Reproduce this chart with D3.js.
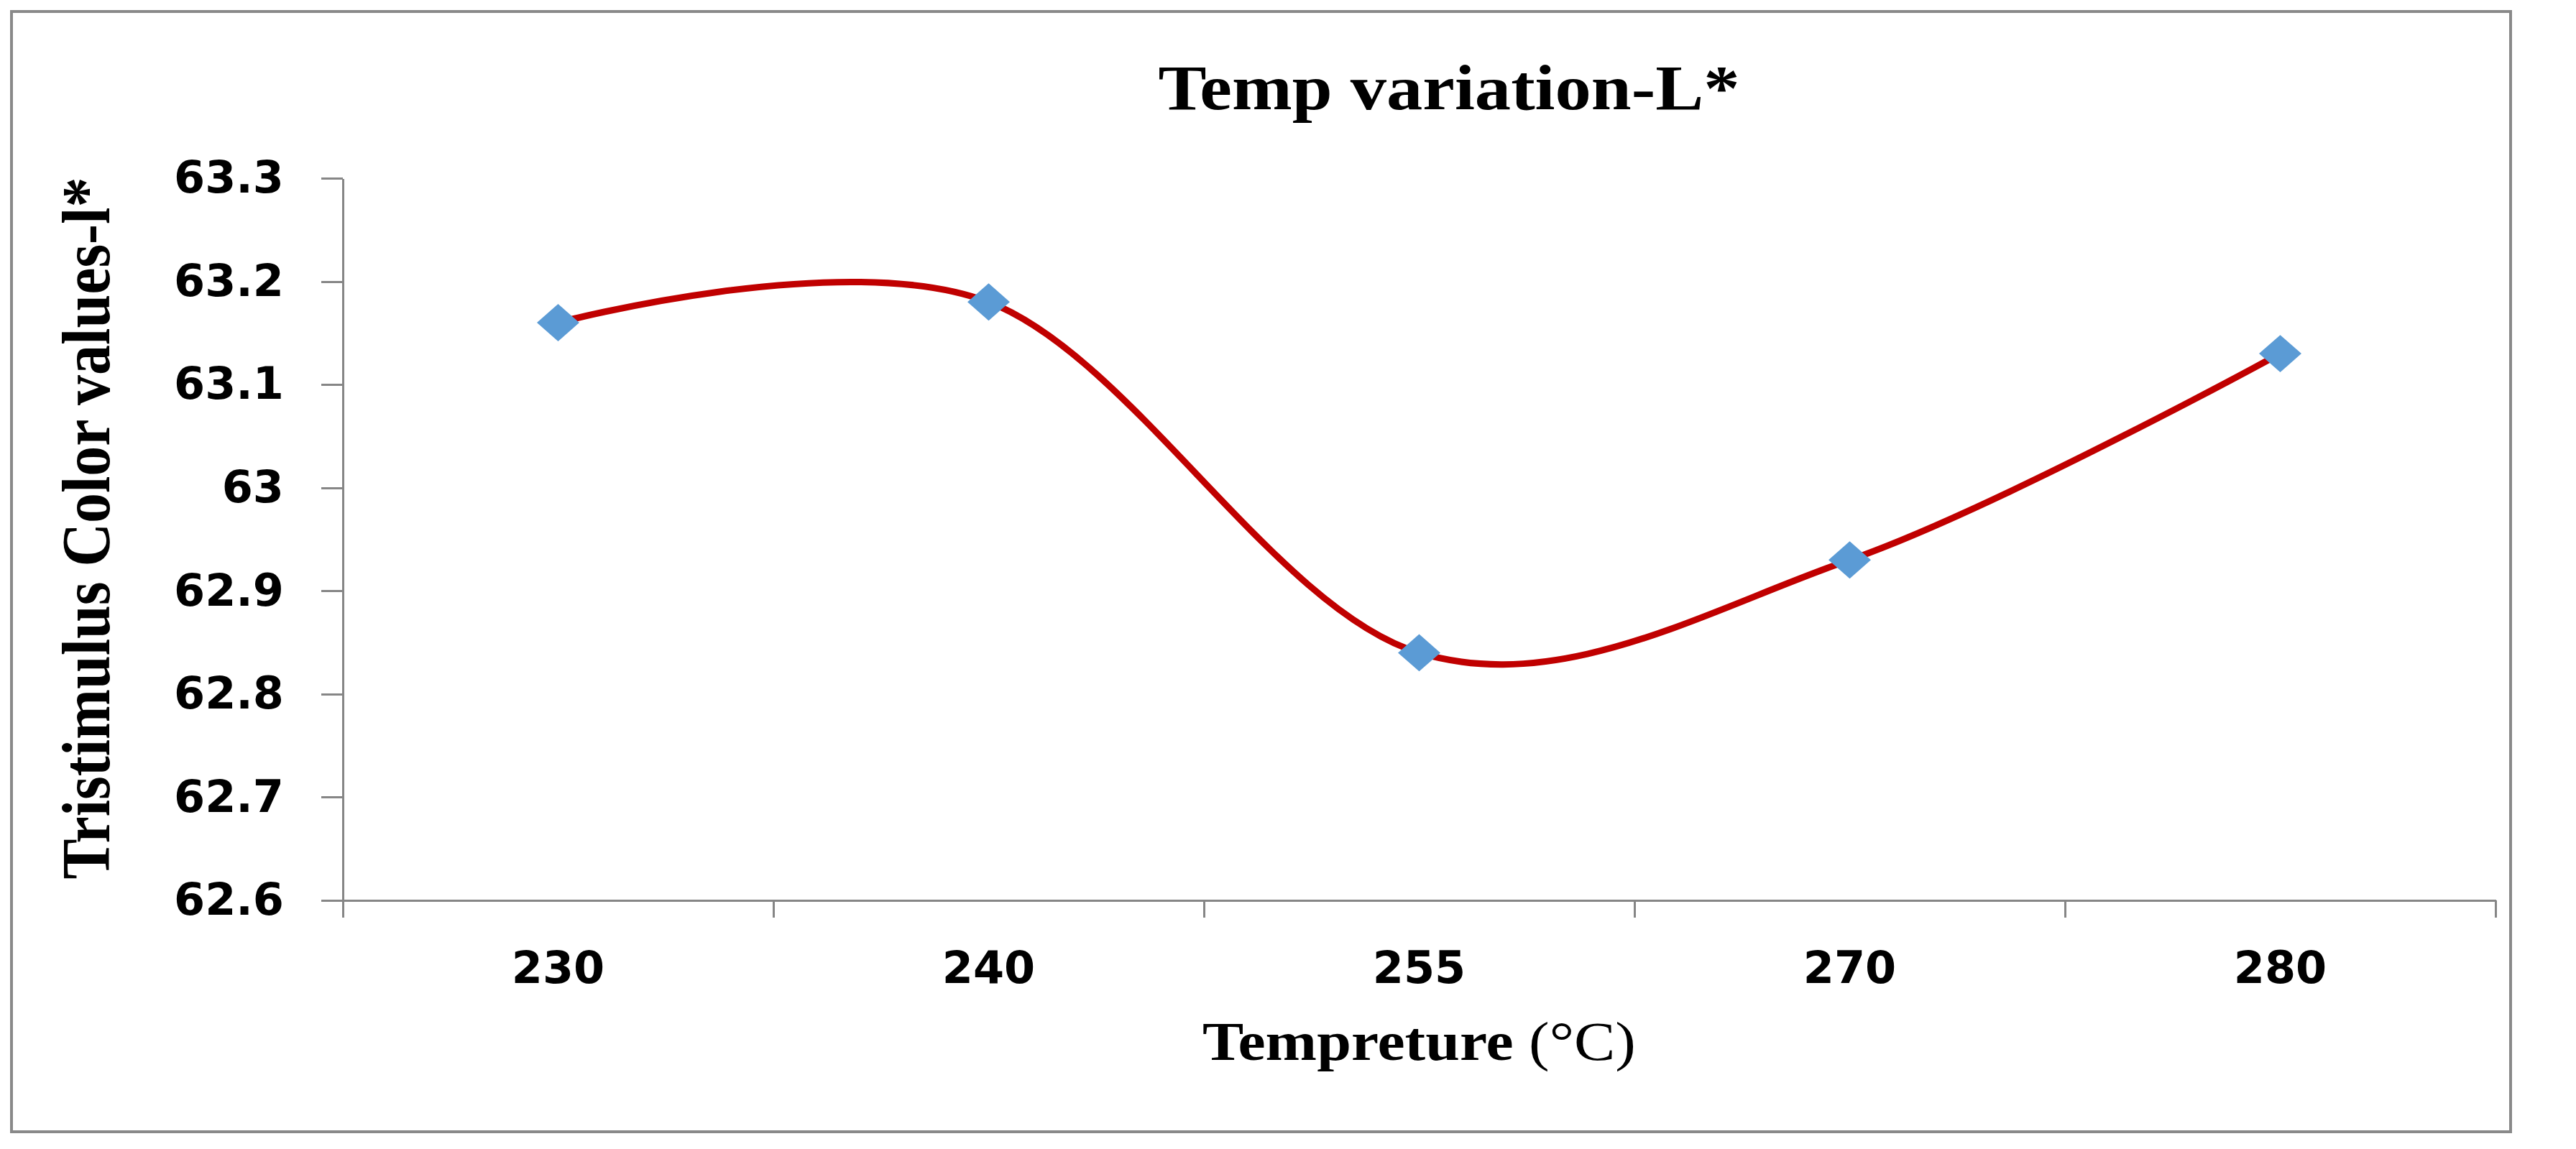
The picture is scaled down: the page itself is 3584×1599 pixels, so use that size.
<!DOCTYPE html>
<html lang="en">
<head>
<meta charset="UTF-8">
<title>Temp variation-L*</title>
<script src="https://cdn.jsdelivr.net/npm/d3@7"></script>
<style>
    body {
        margin: 0;
        background: #fff;
    }
    .axis path,
    .axis line {
        fill: none;
        stroke: #868686;
        stroke-width: 3;
        shape-rendering: crispEdges;
    }
    .axis text {
        font-family: "DejaVu Sans", sans-serif;
        font-weight: bold;
        font-size: 62px;
        fill: #000;
    }
    .serif {
        font-family: "Liberation Serif", "Times New Roman", serif;
        fill: #000;
    }
</style>
</head>
<body>
<script>
// chart values
var categories = ["230", "240", "255", "270", "280"];
var lValues = [63.16, 63.18, 62.84, 62.93, 63.13];
var yTickValues = [62.6, 62.7, 62.8, 62.9, 63.0, 63.1, 63.2, 63.3];
var yTickLabels = ["62.6", "62.7", "62.8", "62.9", "63", "63.1", "63.2", "63.3"];
var chartTitle = "Temp variation-L*";
var xTitleMain = "Tempreture ";
var xTitleUnit = "(°C)";
var yTitle = "Tristimulus Color values-l*";

var W = 3584, H = 1599;
var plot = { left: 477, right: 3472, top: 248, bottom: 1253 };
var stretch = 1.13; // the source picture is a bit wider than tall

var svg = d3.select("body").append("svg")
    .attr("width", W)
    .attr("height", H);

// outer frame
svg.append("rect")
    .attr("x", 16).attr("y", 16)
    .attr("width", 3477).attr("height", 1559)
    .attr("fill", "#fff")
    .attr("stroke", "#898989")
    .attr("stroke-width", 4);

var x = d3.scaleBand()
    .domain(categories)
    .range([plot.left, plot.right])
    .padding(0);

var y = d3.scaleLinear()
    .domain([62.6, 63.3])
    .range([plot.bottom, plot.top]);

// y axis
svg.append("g")
    .attr("class", "y axis")
    .attr("transform", "translate(" + plot.left + ",0)")
    .call(d3.axisLeft(y)
        .tickValues(yTickValues)
        .tickFormat(function(d, i) { return yTickLabels[i]; })
        .tickSize(30)
        .tickSizeOuter(0)
        .tickPadding(52));

// x axis, labels centred in each band
var xAxisG = svg.append("g")
    .attr("class", "x axis")
    .attr("transform", "translate(0," + plot.bottom + ")")
    .call(d3.axisBottom(x)
        .tickSize(0)
        .tickPadding(71));

// tick marks sit on band boundaries
var bounds = categories.map(function(c) { return x(c); }).concat([x.range()[1]]);
xAxisG.selectAll("line.bound")
    .data(bounds)
    .enter().append("line")
    .attr("class", "bound")
    .attr("x1", function(d) { return d; })
    .attr("x2", function(d) { return d; })
    .attr("y1", 0)
    .attr("y2", 24);

var pts = categories.map(function(c, i) {
    return { cat: c, v: lValues[i] };
});

var line = d3.line()
    .x(function(d) { return x(d.cat) + x.bandwidth() / 2; })
    .y(function(d) { return y(d.v); })
    .curve(d3.curveCardinal.tension(0));

svg.append("path")
    .datum(pts)
    .attr("d", line)
    .attr("fill", "none")
    .attr("stroke", "#C00000")
    .attr("stroke-width", 9)
    .attr("stroke-linejoin", "round");

svg.selectAll(".marker")
    .data(pts)
    .enter().append("path")
    .attr("class", "marker")
    .attr("d", d3.symbol().type(d3.symbolDiamond2).size(1900))
    .attr("transform", function(d) {
        return "translate(" + (x(d.cat) + x.bandwidth() / 2) + "," + y(d.v) + ") scale(1.08,0.95)";
    })
    .attr("fill", "#5B9BD5");

// titles
svg.append("text")
    .attr("class", "serif")
    .attr("transform", "translate(2016,152) scale(" + stretch + ",1)")
    .attr("text-anchor", "middle")
    .attr("font-size", 89)
    .attr("font-weight", "bold")
    .text(chartTitle);

var xt = svg.append("text")
    .attr("class", "serif")
    .attr("transform", "translate(" + (plot.left + plot.right) / 2 + ",1475) scale(" + stretch + ",1)")
    .attr("text-anchor", "middle")
    .attr("font-size", 76);
xt.append("tspan").attr("font-weight", "bold").text(xTitleMain);
xt.append("tspan").attr("font-weight", "normal").text(xTitleUnit);

svg.append("text")
    .attr("class", "serif")
    .attr("transform", "translate(152,735) scale(" + stretch + ",1) rotate(-90)")
    .attr("text-anchor", "middle")
    .attr("font-size", 84)
    .attr("font-weight", "bold")
    .text(yTitle);
</script>
</body>
</html>
